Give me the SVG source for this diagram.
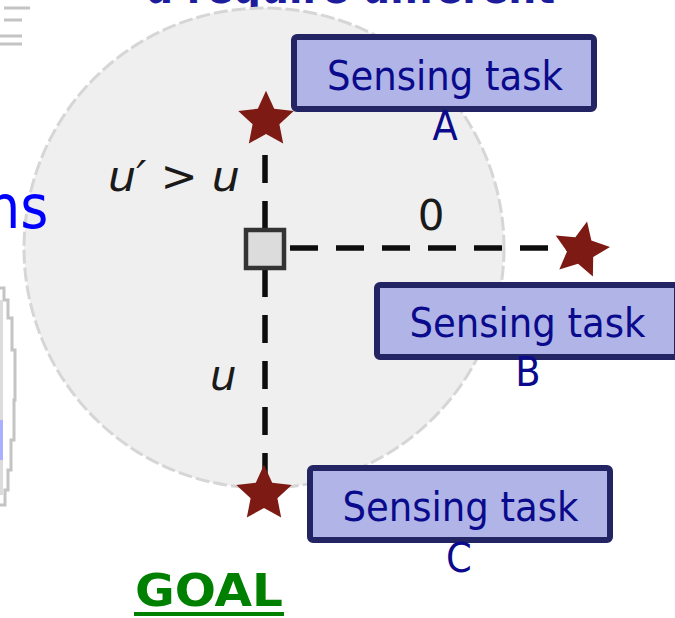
<svg xmlns="http://www.w3.org/2000/svg" width="675" height="618" viewBox="0 0 675 618">
<defs>
<style>
.box{fill:#b1b4e6;stroke:#232463;stroke-width:6}
.lbl{font-family:'DejaVu Sans Condensed','DejaVu Sans',sans-serif;font-size:41px;fill:#0a0a8c;text-anchor:middle}
.math{font-family:'DejaVu Sans',sans-serif;font-style:italic;font-size:42px;fill:#1a1a1a}
.dash{stroke:#0d0d0d;stroke-width:5.5;stroke-dasharray:28 18;fill:none}
.star{fill:#7d1a14}
</style>
<polygon id="starShape" points="0,-27 7.6,-10.5 25.7,-8.3 12.4,4 15.9,21.8 0,13 -15.9,21.8 -12.4,4 -25.7,-8.3 -7.6,-10.5"/>
</defs>
<rect width="675" height="618" fill="#fff"/>
<!-- background fragments -->
<text x="145" y="3" font-family="'DejaVu Sans Condensed','DejaVu Sans',sans-serif" font-weight="bold" font-size="52" fill="#1c1c9c" textLength="410" lengthAdjust="spacingAndGlyphs">d require different</text>
<g fill="none" stroke="#c4c4c4" stroke-width="3">
<path d="M4,8 H30 M4,20 H22 M0,36 H22 M0,44 H22"/>
<path d="M0,288 H4 V300 H8 V318 H12 V350 H15 V400 H14 V440 H11 V470 H8 V490 H5 V505 H0"/>
<path d="M0,300 V495" stroke="#dcdcdc" stroke-width="6"/>
</g>
<rect x="0" y="420" width="3" height="40" fill="#aab0ff"/>
<!-- range circle -->
<circle cx="264" cy="248" r="240" fill="#efefef" stroke="#d6d6d6" stroke-width="3" stroke-dasharray="14 4"/>
<text x="-14" y="228" font-family="'DejaVu Sans Condensed','DejaVu Sans',sans-serif" font-size="60" fill="#0000ff">ns</text>
<!-- connectors -->
<g id="connectors">
<line class="dash" x1="265" y1="155" x2="265" y2="231"/>
<line class="dash" x1="265" y1="269" x2="265" y2="482"/>
<line class="dash" x1="290" y1="248" x2="572" y2="248"/>
</g>
<text class="math" x="108" y="191" textLength="132" lengthAdjust="spacingAndGlyphs">u′ &gt; u</text>
<text class="math" x="210" y="390">u</text>
<text x="431" y="230" font-family="'DejaVu Sans',sans-serif" font-size="42" fill="#1a1a1a" text-anchor="middle">0</text>
<!-- center node -->
<g id="user">
<rect x="246" y="230" width="38" height="38" fill="#dcdcdc" stroke="#333" stroke-width="4.5"/>
</g>
<!-- stars -->
<g id="starA"><use href="#starShape" class="star" transform="translate(266,120) scale(1.08)"/></g>
<g id="starB"><use href="#starShape" class="star" transform="translate(581,250) rotate(12) scale(1.08)"/></g>
<g id="starC"><use href="#starShape" class="star" transform="translate(264,494) scale(1.08)"/></g>
<!-- tasks -->
<g id="taskA">
<rect class="box" x="294" y="37" width="300" height="72" rx="3"/>
<text class="lbl" x="445" y="90" textLength="236" lengthAdjust="spacingAndGlyphs">Sensing task</text>
<text class="lbl" x="445" y="140">A</text>
</g>
<g id="taskB">
<rect class="box" x="377" y="285" width="300" height="72" rx="3"/>
<text class="lbl" x="527.5" y="337" textLength="236" lengthAdjust="spacingAndGlyphs">Sensing task</text>
<text class="lbl" x="528" y="386">B</text>
</g>
<g id="taskC">
<rect class="box" x="310" y="468" width="300" height="72" rx="3"/>
<text class="lbl" x="460.5" y="521" textLength="236" lengthAdjust="spacingAndGlyphs">Sensing task</text>
<text class="lbl" x="459" y="572">C</text>
</g>
<g id="goal">
<text x="135" y="606" font-family="'DejaVu Sans Condensed','DejaVu Sans',sans-serif" font-weight="bold" font-size="44" fill="#008000" textLength="148" lengthAdjust="spacingAndGlyphs">GOAL</text>
<rect x="134" y="612" width="150" height="4" fill="#008000"/>
</g>
</svg>
